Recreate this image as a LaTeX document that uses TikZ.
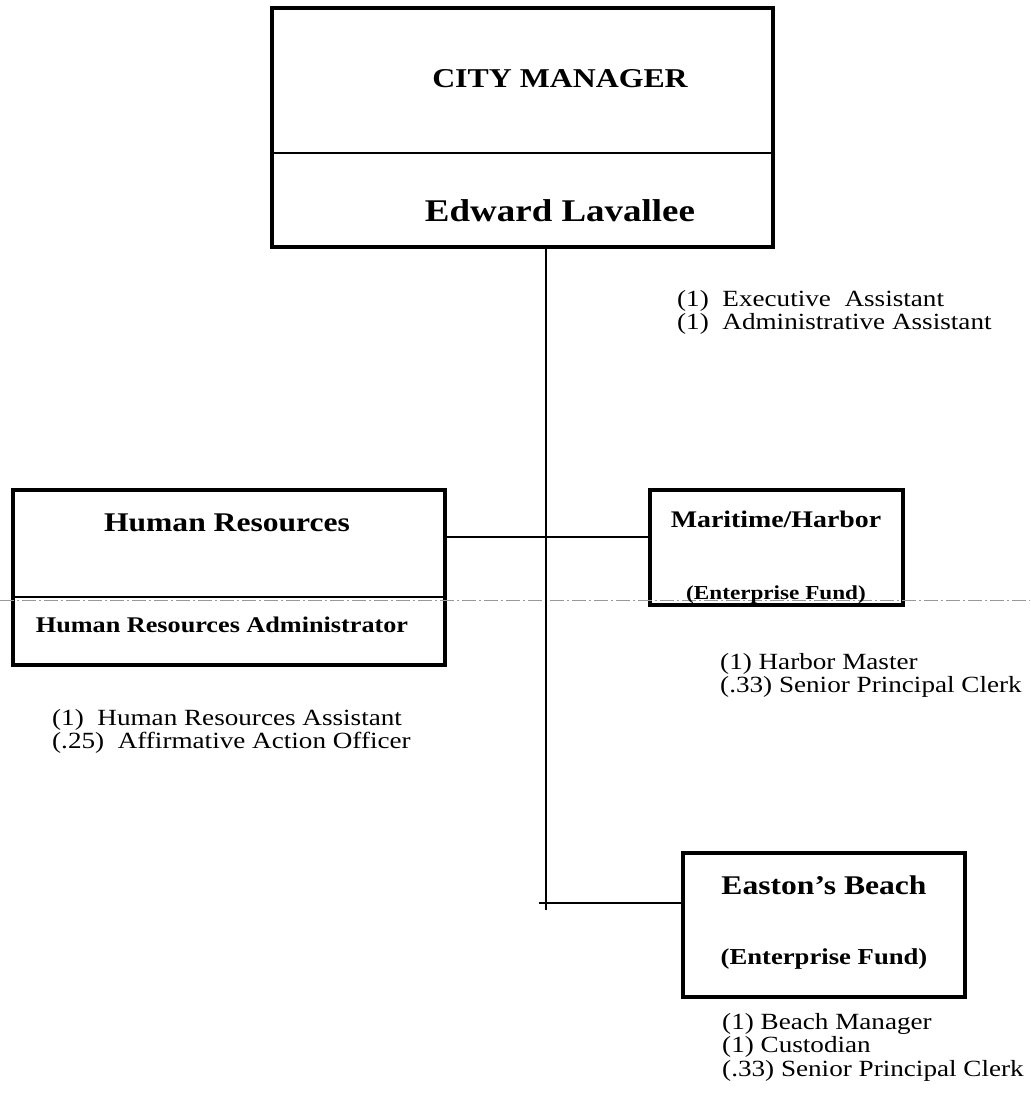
\documentclass[tikz,border=0pt]{standalone}
\usepackage{fontspec}
\setmainfont{Liberation Serif}[FakeStretch=1.17]
\begin{document}
\begin{tikzpicture}[x=1pt,y=-1pt,
  box/.style={draw,line width=3.2pt,inner sep=0pt},
  conn/.style={line width=1.4pt},
  faint/.style={draw=black!40,line width=0.7pt,dash pattern=on 14pt off 3pt on 2pt off 3pt},
  ttl/.style={font=\bfseries,inner sep=0pt,anchor=base},
  lst/.style={anchor=north west,align=left,inner sep=0pt,font=\fontsize{23.2}{23.5}\selectfont}]
\useasboundingbox (0,0) rectangle (1030,1102);
% boxes
\node[box,minimum width=501pt,minimum height=239pt] (city) at (522.5,127.5) {};
\node[box,minimum width=432pt,minimum height=175pt] (hr) at (229,577.5) {};
\node[box,minimum width=253pt,minimum height=115pt] (mar) at (776.5,547.5) {};
\node[box,minimum width=282pt,minimum height=144pt] (eas) at (824,925) {};
% dividers
\draw[line width=2.6pt] (city.west |- 0,153) -- (city.east |- 0,153);
\draw[line width=2.4pt] (hr.west |- 0,597) -- (hr.east |- 0,597);
\draw[faint] (0,600) -- (1030,600);
% titles
\node[ttl,font=\bfseries\fontsize{27.2}{30}\selectfont] (t1) at (560,88) {CITY MANAGER};
\node[ttl,font=\bfseries\fontsize{31.6}{34}\selectfont] (t2) at (560,221) {Edward Lavallee};
\node[ttl,font=\bfseries\fontsize{27}{30}\selectfont] (t3) at (227,531) {Human Resources};
\node[ttl,font=\bfseries\fontsize{22.4}{25}\selectfont] (t4) at (222,632) {Human Resources Administrator};
\node[ttl,font=\bfseries\fontsize{23.8}{26}\selectfont] (t5) at (776,527) {Maritime/Harbor};
\node[ttl,font=\bfseries\fontsize{19.8}{22}\selectfont] (t6) at (776,599) {(Enterprise Fund)};
\node[ttl,font=\bfseries\fontsize{27}{30}\selectfont] (t7) at (824,894) {Easton’s Beach};
\node[ttl,font=\bfseries\fontsize{22.8}{25}\selectfont] (t8) at (824,964) {(Enterprise Fund)};
% connectors
\coordinate (spinebot) at (546,910);
\coordinate (easleft) at (539,903);
\draw[conn] (city.south -| spinebot) -- (spinebot);
\draw[conn] (hr.east |- 0,537) -- (mar.west |- 0,537);
\draw[conn] (easleft) -- (eas.west |- easleft);
% lists
\node[lst] (l1) at (677,290) {(1)\ \ Executive\ \ Assistant\\(1)\ \ Administrative Assistant};
\node[lst] (l2) at (52,709) {(1)\ \ Human Resources Assistant\\(.25)\ \ Affirmative Action Officer};
\node[lst] (l3) at (720,653) {(1) Harbor Master\\(.33) Senior Principal Clerk};
\node[lst] (l4) at (722,1013) {(1) Beach Manager\\(1) Custodian\\(.33) Senior Principal Clerk};
\end{tikzpicture}
\end{document}
